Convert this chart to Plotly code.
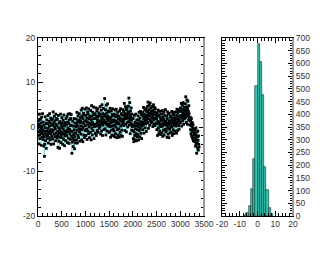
import plotly.graph_objects as go

# ---- data ----
sample_step = 5
series_values = [
    -0.2, 1.4, -1.9, 0.6, -3.8, -1.1, 2.9, 0.3, -2.6, -0.8, 1.7, -1.5, 0.9, -4.1, -0.4, 2.2, -2.3, 0.1, -1.2, 3.0,
    -0.6, -2.8, 1.1, -1.7, -4.3, 0.4, -2.2, -6.6, -3.9, -1.0, 2.3, -0.2, -3.1, -1.5, 0.8, -4.8, -2.0, 1.6, -0.9, -2.6,
    0.7, -1.8, 2.6, -0.3, -3.6, -1.2, 1.3, -2.4, 0.2, 3.0, -0.9, -2.9, 0.9, -1.5, 2.0, -3.9, -0.6, 1.6, -2.1, 0.4,
    -1.1, 1.8, -2.7, 0.5, 3.4, -0.7, -3.8, 1.0, -1.6, 2.4, 0.0, -2.2, 1.4, -0.4, -3.1, 2.9, 0.6, -1.3, 1.9, -2.0,
    0.3, -2.5, 1.7, -1.0, -4.6, -1.9, 2.6, -0.2, -3.2, 0.9, -1.4, -4.8, -0.6, 1.2, -2.3, 2.9, -1.1, -3.5, 0.5, -1.7,
    -0.1, 2.1, -2.4, 0.8, -3.9, -1.3, 1.5, -0.5, -2.8, 2.7, -1.6, 0.2, -4.2, -0.9, 1.0, -2.0, 0.6, -3.1, 1.9, -1.2,
    0.5, -1.9, 2.4, -0.8, -3.5, 1.1, -0.2, 2.9, -2.5, -1.1, 0.8, -3.7, 1.6, -0.5, 3.0, -1.6, -2.8, 0.3, 1.9, -0.9,
    2.8, 0.4, -2.1, -5.9, -3.4, -1.0, 1.3, -2.6, -4.4, 0.2, -1.7, -3.0, 1.9, -0.6, -4.9, -2.2, 0.9, -1.4, -3.6, 0.1,
    -1.3, 1.8, -2.9, 0.6, 3.3, -0.7, -3.6, 1.2, -1.9, 2.5, 0.2, -2.4, 1.5, -0.4, 3.0, -1.1, -3.2, 0.9, 2.1, -0.5,
    1.4, -1.6, 3.8, 0.2, -2.9, 2.5, -0.6, 4.2, 1.0, -3.3, 1.9, -0.1, 3.1, -1.8, 0.7, 2.7, -2.4, 1.3, 4.0, -0.8,
    0.3, 2.6, -1.9, 1.4, 4.3, -0.5, 2.0, -2.8, 1.1, 3.4, -0.9, 0.6, 2.9, -1.5, 4.1, 0.0, 1.8, -2.4, 2.4, 0.9,
    2.1, -1.2, 3.7, 0.4, -2.9, 1.6, 4.8, -0.3, 2.5, -1.8, 1.0, 3.3, -0.8, 0.5, 4.5, 1.9, -2.6, 2.8, 0.1, 3.0,
    0.6, 2.8, -1.4, 1.9, 4.3, 0.2, -1.9, 2.4, 3.6, 0.9, -0.8, 1.5, 4.1, 2.2, -1.2, 0.4, 3.2, 1.1, -0.3, 2.7,
    2.9, 0.1, 4.6, 1.4, -1.6, 2.5, 0.7, 3.8, -0.9, 1.9, 5.0, 1.2, -1.9, 3.0, 0.4, 2.2, 4.2, 0.9, -0.6, 2.6,
    1.5, 6.4, 2.8, -0.4, 3.9, 1.1, -1.8, 2.3, 4.9, 0.6, 3.2, -0.9, 1.8, 5.2, 2.5, 0.2, 3.6, 1.3, -1.2, 2.0,
    0.6, 3.4, -1.1, 1.8, 4.2, 0.1, -2.3, 2.2, 1.0, 3.6, -0.7, 1.5, -1.8, 2.8, 0.3, 4.1, 1.2, -0.4, 2.5, -2.0,
    1.6, -0.9, 2.9, 0.4, -2.2, 3.8, 1.1, -1.5, 2.3, 0.0, 4.0, 1.4, -2.4, 0.8, 2.6, -0.6, 3.3, 0.9, -1.8, 1.9,
    -0.4, 2.4, 0.7, -2.3, 3.6, 1.5, -1.2, 2.0, 4.1, 0.2, -1.9, 1.3, 3.0, -0.7, 2.7, 0.5, -2.1, 1.8, 3.9, 1.0,
    1.4, 3.5, 0.3, 2.6, 5.3, 1.8, -0.8, 3.0, 2.2, 4.6, 0.6, 1.9, 3.9, -1.1, 2.5, 4.2, 1.0, 2.9, 0.0, 3.4,
    2.0, 4.7, 1.2, 6.5, 3.1, 0.4, 2.6, 5.5, 1.7, -1.5, 3.6, 2.3, 0.8, 4.3, 1.5, -0.7, 2.9, 0.1, 1.9, 0.5,
    -0.8, 1.9, -2.6, 0.5, -3.3, -1.1, 2.6, 0.2, -1.9, 1.1, -2.9, -0.4, 2.9, 0.8, -1.5, -3.1, 0.3, 1.6, -2.2, -0.6,
    0.9, -1.7, 2.5, 0.1, -2.9, 1.6, 3.3, -0.8, 0.6, -2.2, 2.0, -0.3, 3.5, 1.2, -1.4, 0.4, 2.8, -2.6, 1.0, 0.2,
    1.1, 3.3, -0.6, 2.4, 0.5, 4.4, 1.8, -1.4, 2.9, 0.9, 3.8, 1.3, -0.2, 2.2, 4.1, 0.7, 2.6, -1.0, 1.6, 3.5,
    2.2, 4.6, 1.0, 3.3, 5.6, 2.7, -0.3, 3.9, 1.8, 4.9, 2.5, 0.4, 3.1, 5.4, 1.4, 2.9, 4.3, 0.9, 3.6, 2.0,
    3.0, 1.2, 4.6, 2.3, 0.1, 3.7, 2.8, 5.0, 1.6, 0.6, 3.4, 4.4, 2.0, 0.3, 2.9, 4.1, 1.9, 3.2, 0.9, 2.6,
    1.8, -0.6, 3.2, 0.7, -1.9, 2.4, 1.3, 3.8, -0.2, 0.9, -1.5, 2.7, 1.0, -0.9, 3.5, 0.4, 2.1, -1.7, 1.5, 0.1,
    0.6, 2.9, -1.3, 1.5, 3.7, 0.2, -2.1, 2.2, 0.9, -0.7, 3.3, 1.7, -1.8, 0.5, 2.6, 1.2, -0.5, 3.9, 0.8, -1.1,
    1.3, -0.8, 2.5, 0.3, -2.3, 1.9, 3.4, -0.2, 0.8, -1.6, 2.9, 0.5, -2.4, 1.4, 3.1, -0.5, 0.9, -1.3, 2.2, 0.0,
    0.7, 2.4, -1.2, 1.5, 3.5, 0.1, -1.9, 2.0, 0.9, 3.0, -0.6, 1.2, -1.5, 2.7, 0.4, 3.3, 1.6, -0.9, 2.1, 0.6,
    1.9, 0.2, 3.4, 1.1, -1.4, 2.6, 4.0, 0.7, 1.8, -0.8, 3.2, 1.4, 3.9, 0.3, 2.3, -0.5, 1.6, 3.6, 0.9, 2.5,
    2.2, 4.3, 1.1, 3.5, 5.3, 2.6, 0.2, 3.9, 2.0, 4.9, 1.4, 3.1, 5.5, 2.5, 0.6, 3.7, 4.4, 1.8, 3.0, 2.4,
    3.6, 5.2, 2.1, 6.8, 3.9, 1.0, 4.5, 2.8, 6.1, 3.2, 0.6, 4.1, 5.8, 2.4, 3.5, 1.5, 4.8, 3.0, 2.0, 1.7,
    1.8, 0.4, 2.2, -0.6, 1.3, -1.5, 0.7, 1.9, -2.1, 0.2, -0.9, 1.0, -2.6, -0.3, 0.5, -3.1, -1.2, -0.4, -2.4, -1.7,
    -1.4, -3.3, -0.6, -2.5, -4.3, -1.8, -0.2, -3.8, -2.9, -5.9, -1.1, -3.6, -2.2, -4.7, -0.9, -3.0, -5.2, -2.0, -3.9, -4.5,
]
series_x = [i * sample_step for i in range(len(series_values))]

hist_centers = [-6.875, -5.625, -4.375, -3.125, -1.875, -0.625, 0.625,
                1.875, 3.125, 4.375, 5.625, 6.875, 8.125]
hist_counts = [4, 12, 39, 106, 224, 512, 676, 607, 476, 194, 102, 31, 8]
hist_bin_width = 1.25

left_xticks = [0, 500, 1000, 1500, 2000, 2500, 3000, 3500]
left_yticks = [-20, -10, 0, 10, 20]
right_xticks = [-20, -10, 0, 10, 20]
right_yticks = list(range(0, 701, 50))

# ---- figure ----
W, H = 330, 255
OFF = 8  # page body margin offset
fig = go.Figure()

fig.add_trace(go.Scatter(
    x=series_x, y=series_values, mode="lines",
    line=dict(color="#55dada", width=0.6),
    xaxis="x", yaxis="y", showlegend=False, hoverinfo="skip",
))
fig.add_trace(go.Scatter(
    x=series_x, y=series_values, mode="markers",
    marker=dict(color="black", size=2.8, symbol="square", line=dict(width=0)),
    xaxis="x", yaxis="y", showlegend=False,
))
fig.add_trace(go.Bar(
    x=hist_centers, y=hist_counts, width=hist_bin_width,
    marker=dict(color="#30c8b4", line=dict(color="#0d302c", width=0.6)),
    xaxis="x2", yaxis="y2", showlegend=False,
))

tickfont = dict(family="Liberation Sans, Arial, sans-serif", size=8.5, color="#333333")
axis_common = dict(showgrid=False, zeroline=False, showline=True, linecolor="black",
                   linewidth=1, mirror="ticks", ticks="inside", ticklen=5,
                   tickcolor="black", tickwidth=1, tickfont=tickfont,
                   automargin=False, tickangle=0)


def labels(vals):
    return [str(v) for v in vals]


xl0, xl1 = (38 - OFF) / W, (204 - OFF) / W
xr0, xr1 = (222 - OFF) / W, (293 - OFF) / W
yb, yt = 1 - (216 - OFF) / H, 1 - (38 - OFF) / H

fig.update_layout(
    width=W, height=H,
    margin=dict(l=0, r=0, t=0, b=0),
    paper_bgcolor="white", plot_bgcolor="white",
    xaxis=dict(domain=[xl0, xl1], range=[0, 3500], tickvals=left_xticks,
               ticktext=labels(left_xticks),
               minor=dict(ticks="inside", dtick=100, ticklen=3, tickcolor="black"),
               anchor="y", **axis_common),
    yaxis=dict(domain=[yb, yt], range=[-20, 20], tickvals=left_yticks,
               ticktext=labels(left_yticks),
               minor=dict(ticks="inside", dtick=2, ticklen=3, tickcolor="black"),
               anchor="x", **axis_common),
    xaxis2=dict(domain=[xr0, xr1], range=[-20, 20], tickvals=right_xticks,
                ticktext=labels(right_xticks),
                minor=dict(ticks="inside", dtick=2, ticklen=3, tickcolor="black"),
                anchor="y2", **axis_common),
    yaxis2=dict(domain=[yb, yt], range=[0, 700], tickvals=right_yticks,
                ticktext=labels(right_yticks),
                minor=dict(ticks="inside", dtick=10, ticklen=3, tickcolor="black"),
                anchor="x2", side="right", **axis_common),
    bargap=0,
)

# grey frame shadow on the right edges
for xref, yref in [("x domain", "y domain"), ("x2 domain", "y2 domain")]:
    fig.add_shape(type="line", xref=xref, yref=yref, x0=1, x1=1, y0=0, y1=1,
                  line=dict(color="#999999", width=2))

fig.write_html("out.html")
